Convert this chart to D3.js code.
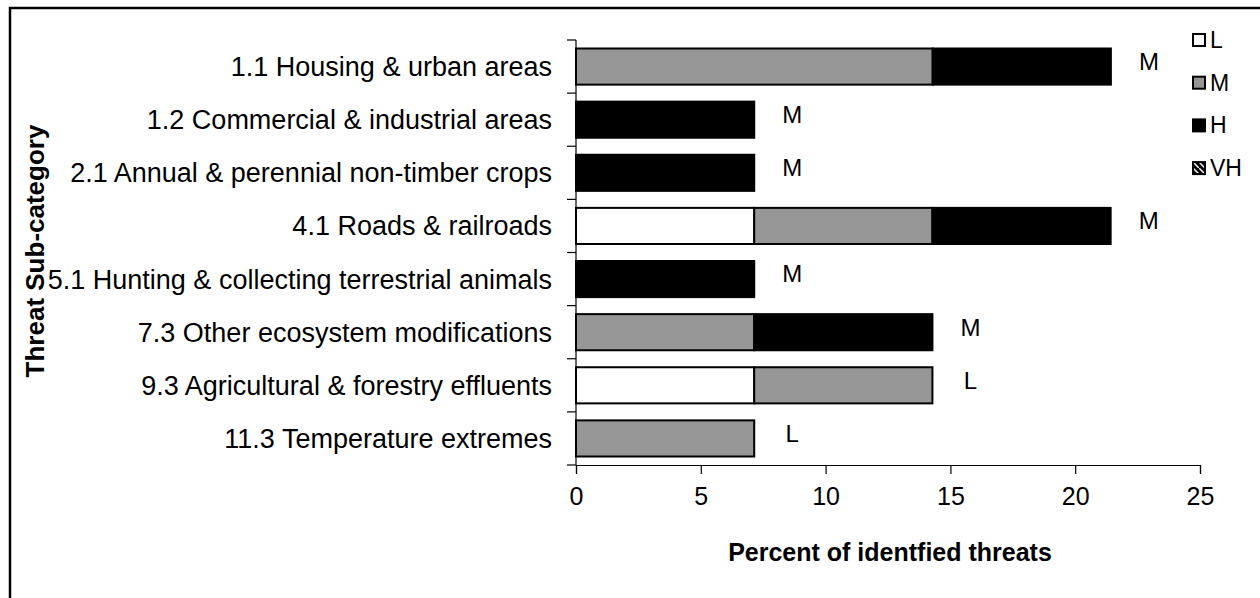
<!DOCTYPE html>
<html>
<head>
<meta charset="utf-8">
<script src="https://cdn.jsdelivr.net/npm/d3@7"></script>
<style>
  body { margin: 0; background: #fff; }
  text { font-family: "Liberation Sans", Arial, sans-serif; fill: #000; }
</style>
</head>
<body>
<div id="graph"></div>
<script>
// chart data (percent of identified threats, 1 of 14 = 7.14)
const categories = [
  '1.1 Housing & urban areas',
  '1.2 Commercial & industrial areas',
  '2.1 Annual & perennial non-timber crops',
  '4.1 Roads & railroads',
  '5.1 Hunting & collecting terrestrial animals',
  '7.3 Other ecosystem modifications',
  '9.3 Agricultural & forestry effluents',
  '11.3 Temperature extremes'
];
const seriesL  = [0, 0, 0, 7.14, 0, 0, 7.14, 0];
const seriesM  = [14.29, 0, 0, 7.14, 0, 7.14, 7.14, 7.14];
const seriesH  = [7.14, 7.14, 7.14, 7.14, 7.14, 7.14, 0, 0];
const seriesVH = [0, 0, 0, 0, 0, 0, 0, 0];
const rankLabels = ['M', 'M', 'M', 'M', 'M', 'M', 'L', 'L'];
const legendKeys = ['L', 'M', 'H', 'VH'];
const xTicks = [0, 5, 10, 15, 20, 25];

const svgWidth = 1260;
const svgHeight = 598;
const margin = { top: 40, right: 60, bottom: 133, left: 576 };
const w = 1200 - margin.left;
const h = 465 - margin.top;

const svg = d3.select('#graph')
  .append('svg')
  .attr('width', svgWidth)
  .attr('height', svgHeight);

// hatch for VH
const defs = svg.append('defs');
const pat = defs.append('pattern')
  .attr('id', 'hatch')
  .attr('patternUnits', 'userSpaceOnUse')
  .attr('width', 6).attr('height', 6);
pat.append('rect').attr('width', 6).attr('height', 6).attr('fill', '#000');
pat.append('path').attr('d', 'M0,0 L6,6').attr('stroke', '#fff').attr('stroke-width', 1.5);

// outer frame (right/bottom fall off the page)
svg.append('rect')
  .attr('x', 10).attr('y', 8)
  .attr('width', 1300).attr('height', 640)
  .attr('fill', 'none')
  .attr('stroke', '#000')
  .attr('stroke-width', 2.5);

const g = svg.append('g')
  .attr('transform', `translate(${margin.left}, ${margin.top})`);

const x = d3.scaleLinear().domain([0, 25]).range([0, w]);
const y = d3.scaleBand().domain(categories).range([0, h]).paddingInner(0.32).paddingOuter(0.16);

const colors = { L: '#fff', M: '#969696', H: '#000', VH: 'url(#hatch)' };

const table = categories.map((c, i) => ({
  cat: c, L: seriesL[i], M: seriesM[i], H: seriesH[i], VH: seriesVH[i], rank: rankLabels[i]
}));
const stacked = d3.stack().keys(legendKeys)(table);

// bars
stacked.forEach(layer => {
  g.append('g')
    .selectAll('rect')
    .data(layer.filter(d => d[1] - d[0] > 0))
    .join('rect')
    .attr('x', d => x(d[0]))
    .attr('y', d => y(d.data.cat))
    .attr('width', d => x(d[1]) - x(d[0]))
    .attr('height', y.bandwidth())
    .attr('fill', colors[layer.key])
    .attr('stroke', '#000')
    .attr('stroke-width', 2);
});

// rank labels at end of bars
g.append('g')
  .selectAll('text')
  .data(table)
  .join('text')
  .attr('x', d => x(d.L + d.M + d.H + d.VH) + 38)
  .attr('y', d => y(d.cat) + y.bandwidth() / 2 - 5)
  .attr('dy', '0.35em')
  .attr('text-anchor', 'middle')
  .style('font-size', '24px')
  .text(d => d.rank);

// x axis
const xAxis = g.append('g')
  .attr('transform', `translate(0, ${h})`)
  .call(d3.axisBottom(x).tickValues(xTicks).tickSize(9).tickPadding(13));
xAxis.select('.domain').attr('stroke', '#000').attr('stroke-width', 1.2);
xAxis.selectAll('.tick line').attr('stroke', '#000').attr('stroke-width', 1.2);
xAxis.selectAll('.tick text').style('font-size', '25px').style('font-family', '"Liberation Sans", Arial, sans-serif');

// y axis: ticks sit on band boundaries
const yAxis = g.append('g');
yAxis.append('line')
  .attr('x1', 0).attr('x2', 0).attr('y1', 0).attr('y2', h)
  .attr('stroke', '#000').attr('stroke-width', 1.2);
const step = y.step();
yAxis.selectAll('.ytick')
  .data(d3.range(categories.length + 1))
  .join('line')
  .attr('class', 'ytick')
  .attr('x1', -9).attr('x2', 0)
  .attr('y1', i => i * step).attr('y2', i => i * step)
  .attr('stroke', '#000').attr('stroke-width', 1.2);
yAxis.selectAll('.ylab')
  .data(categories)
  .join('text')
  .attr('class', 'ylab')
  .attr('x', -24)
  .attr('y', d => y(d) + y.bandwidth() / 2)
  .attr('dy', '0.35em')
  .attr('text-anchor', 'end')
  .style('font-size', '27px')
  .text(d => d);

// axis titles
svg.append('text')
  .attr('x', margin.left + w / 2 + 2)
  .attr('y', 561)
  .attr('text-anchor', 'middle')
  .style('font-size', '25px')
  .style('font-weight', 'bold')
  .text('Percent of identfied threats');

svg.append('text')
  .attr('transform', 'translate(44, 251) rotate(-90)')
  .attr('text-anchor', 'middle')
  .style('font-size', '26px')
  .style('font-weight', 'bold')
  .text('Threat Sub-category');

// legend
const legend = svg.append('g').attr('transform', 'translate(1193, 40)');
legendKeys.forEach((k, i) => {
  const row = legend.append('g').attr('transform', `translate(0, ${i * 42.7})`);
  row.append('rect')
    .attr('x', 0).attr('y', -6)
    .attr('width', 12).attr('height', 12)
    .attr('fill', colors[k])
    .attr('stroke', '#000')
    .attr('stroke-width', 2);
  row.append('text')
    .attr('x', 17).attr('y', 0)
    .attr('dy', '0.35em')
    .style('font-size', '23px')
    .text(k);
});
</script>
</body>
</html>
